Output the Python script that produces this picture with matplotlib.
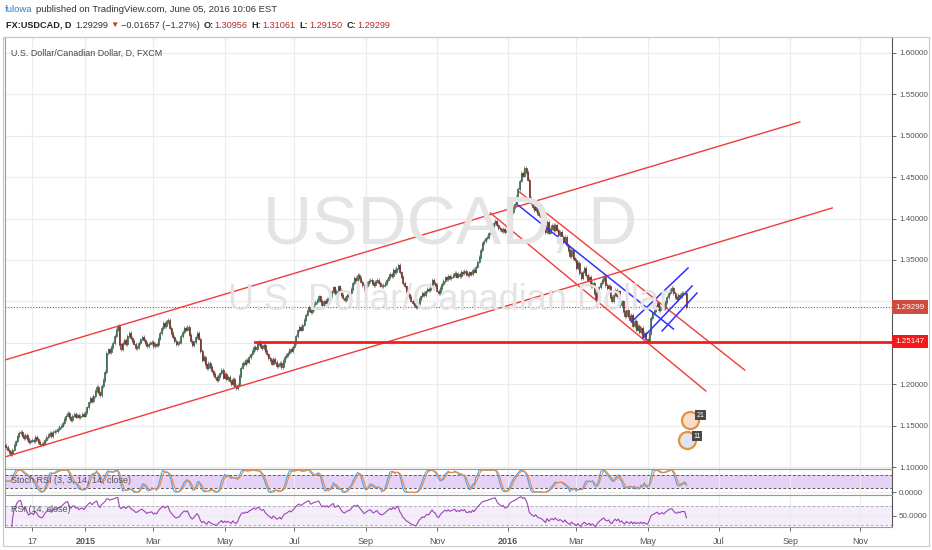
import matplotlib
matplotlib.use("Agg")
import matplotlib.pyplot as plt
import matplotlib.transforms as mtransforms
from matplotlib.patches import Rectangle
import numpy as np
import pandas as pd

# daily closes, one per weekday starting 2014-10-24
closes_2014 = [
    1.124, 1.121, 1.118, 1.116, 1.121, 1.127,  # Oct
    1.131, 1.137, 1.141, 1.142, 1.138, 1.135, 1.139, 1.134, 1.130, 1.132,
    1.133, 1.131, 1.136, 1.134, 1.130, 1.128, 1.127, 1.129, 1.133, 1.136,  # Nov
    1.139, 1.141, 1.137, 1.142, 1.144, 1.143, 1.146, 1.148, 1.150, 1.153,
    1.158, 1.162, 1.165, 1.160, 1.157, 1.162, 1.164, 1.161, 1.163, 1.160,
    1.162, 1.164, 1.162,  # Dec
]
closes_2015 = [
    1.166, 1.172, 1.178, 1.183, 1.180, 1.186, 1.192, 1.197, 1.190, 1.187,
    1.198, 1.205, 1.215, 1.238, 1.242, 1.239, 1.245, 1.250, 1.258, 1.266,
    1.270, 1.248,  # Jan
    1.242, 1.250, 1.253, 1.248, 1.258, 1.262, 1.256, 1.252, 1.249, 1.244,
    1.245, 1.250, 1.254, 1.257, 1.253, 1.250, 1.246, 1.249, 1.250, 1.251,  # Feb
    1.246, 1.249, 1.247, 1.255, 1.262, 1.268, 1.274, 1.270, 1.275, 1.278,
    1.268, 1.262, 1.257, 1.252, 1.248, 1.250, 1.251, 1.258, 1.263, 1.268,
    1.266, 1.269,  # Mar
    1.260, 1.252, 1.247, 1.251, 1.257, 1.262, 1.255, 1.240, 1.229, 1.233,
    1.224, 1.219, 1.226, 1.221, 1.216, 1.212, 1.209, 1.205, 1.210, 1.213,
    1.217, 1.208,  # Apr
    1.212, 1.206, 1.209, 1.204, 1.200, 1.206, 1.198, 1.195, 1.199, 1.210,
    1.220, 1.226, 1.224, 1.229, 1.227, 1.233, 1.236, 1.240, 1.245, 1.242,
    1.248,  # May
    1.251, 1.246, 1.244, 1.247, 1.240, 1.236, 1.232, 1.229, 1.225, 1.231,
    1.227, 1.222, 1.223, 1.226, 1.221, 1.228, 1.233, 1.235, 1.238, 1.242,
    1.240, 1.245,  # Jun
    1.250, 1.258, 1.265, 1.269, 1.266, 1.272, 1.278, 1.284, 1.289, 1.293,
    1.287, 1.291, 1.297, 1.299, 1.302, 1.306, 1.301, 1.296, 1.300, 1.298,
    1.303, 1.300, 1.306,  # Jul
    1.312, 1.317, 1.310, 1.313, 1.318, 1.314, 1.308, 1.304, 1.302, 1.306,
    1.309, 1.310, 1.315, 1.322, 1.328, 1.326, 1.332, 1.328, 1.324, 1.320,
    1.315,  # Aug
    1.318, 1.322, 1.325, 1.326, 1.322, 1.320, 1.324, 1.326, 1.322, 1.319,
    1.318, 1.320, 1.322, 1.326, 1.329, 1.333, 1.331, 1.338, 1.335, 1.340,
    1.344, 1.335,  # Sep
    1.330, 1.322, 1.318, 1.312, 1.309, 1.305, 1.301, 1.298, 1.296, 1.293,
    1.297, 1.303, 1.306, 1.310, 1.308, 1.312, 1.315, 1.314, 1.320, 1.326,
    1.322, 1.320,  # Oct
    1.313, 1.310, 1.316, 1.321, 1.325, 1.329, 1.327, 1.331, 1.328, 1.330,
    1.332, 1.334, 1.330, 1.333, 1.331, 1.336, 1.334, 1.337, 1.333, 1.332,
    1.335,  # Nov
    1.333, 1.338, 1.336, 1.342, 1.348, 1.354, 1.362, 1.370, 1.373, 1.376,
    1.378, 1.382, 1.386, 1.390, 1.395, 1.397, 1.392, 1.389, 1.387, 1.385,
    1.388, 1.384, 1.386,  # Dec
]
closes_2016 = [
    1.390, 1.402, 1.408, 1.414, 1.418, 1.426, 1.436, 1.446, 1.455, 1.452,
    1.461, 1.456, 1.447, 1.425, 1.419, 1.414, 1.410, 1.416, 1.407, 1.404,
    1.402,  # Jan
    1.398, 1.392, 1.384, 1.396, 1.383, 1.388, 1.392, 1.386, 1.392, 1.386,
    1.380, 1.384, 1.378, 1.372, 1.378, 1.368, 1.362, 1.355, 1.362, 1.352,
    1.350,  # Feb
    1.340, 1.346, 1.334, 1.328, 1.336, 1.340, 1.332, 1.326, 1.330, 1.318,
    1.322, 1.310, 1.302, 1.312, 1.317, 1.322, 1.326, 1.330, 1.320, 1.316,
    1.319, 1.305, 1.300,  # Mar
    1.308, 1.314, 1.306, 1.312, 1.296, 1.300, 1.288, 1.282, 1.290, 1.282,
    1.278, 1.284, 1.270, 1.276, 1.266, 1.270, 1.263, 1.268, 1.258, 1.262,
    1.254,  # Apr
    1.252, 1.262, 1.280, 1.286, 1.289, 1.294, 1.298, 1.290, 1.293, 1.297,
    1.292, 1.299, 1.305, 1.310, 1.314, 1.316, 1.310, 1.305, 1.303, 1.308,
    1.306, 1.310,  # May
    1.310, 1.30956, 1.29299,  # Jun
]
first_open = 1.1265
start_date = "2014-10-24"
axis_end = "2016-11-30"

last_price = 1.29299
support_level = 1.25147
hidden_ticks = (1.25, 1.30)  # covered by the price boxes

tick_dates = ["2014-11-17", "2015-01-01", "2015-03-02", "2015-05-01", "2015-07-01",
              "2015-09-01", "2015-11-02", "2016-01-01", "2016-03-01", "2016-05-02",
              "2016-07-01", "2016-09-01", "2016-11-01"]
tick_labels = ["17", "2015", "Mar", "May", "Jul", "Sep", "Nov",
               "2016", "Mar", "May", "Jul", "Sep", "Nov"]

# drawn trend lines: (bar, price) -> (bar, price)
red_lines = [
    (0, 1.2296, 490, 1.5167),
    (0, 1.1125, 510, 1.4128),
    (317, 1.4321, 456, 1.2171),
    (299, 1.4068, 432, 1.1918),
]
blue_lines = [
    (316, 1.4164, 412, 1.2667),
    (386, 1.2751, 421, 1.3403),
    (393, 1.2558, 423.5, 1.3186),
    (405, 1.2643, 426.5, 1.3101),
]
support_start = 154

closes = np.array(closes_2014 + closes_2015 + closes_2016)
opens = np.concatenate([[first_open], closes[:-1]])
bars = np.arange(len(closes))
axis_dates = pd.bdate_range(start_date, axis_end)
tick_pos = axis_dates.searchsorted(pd.to_datetime(tick_dates))

# indicators
s = pd.Series(closes)
delta = s.diff().fillna(0)
avg_up = delta.clip(lower=0).ewm(alpha=1 / 14, adjust=False).mean()
avg_dn = (-delta.clip(upper=0)).ewm(alpha=1 / 14, adjust=False).mean()
rsi = 100 - 100 / (1 + avg_up / avg_dn.replace(0, np.nan))
rsi = rsi.bfill()
lo = rsi.rolling(14, min_periods=1).min()
hi = rsi.rolling(14, min_periods=1).max()
stoch = (100 * (rsi - lo) / (hi - lo).replace(0, np.nan)).fillna(50)
k = stoch.rolling(3, min_periods=1).mean()
d = k.rolling(3, min_periods=1).mean()

plt.rcParams['font.family'] = ['Liberation Sans', 'DejaVu Sans']

W, H = 932, 550
fig = plt.figure(figsize=(W / 100, H / 100), dpi=100)


def fx(px):
    return px / W


def fy(py):
    return 1 - py / H


left, right = 5, 892
ax = fig.add_axes([fx(left), fy(469), fx(right) - fx(left), fy(37) - fy(469)])
ax2 = fig.add_axes([fx(left), fy(495), fx(right) - fx(left), fy(469) - fy(495)], sharex=ax)
ax3 = fig.add_axes([fx(left), fy(527), fx(right) - fx(left), fy(495) - fy(527)], sharex=ax)

grid_c = '#ececec'
for a in (ax, ax2, ax3):
    a.set_facecolor('white')
    for sp in a.spines.values():
        sp.set_color('#9a9a9a')
        sp.set_linewidth(0.8)
    a.spines['right'].set_color('#555555')
    a.yaxis.tick_right()
    a.tick_params(axis='y', colors='#555555', labelsize=5.8, length=3, width=0.6, pad=2)
    a.tick_params(axis='x', length=0)
    a.set_xticks(tick_pos)
    a.grid(True, color=grid_c, lw=0.8)
    a.set_axisbelow(True)

ax.set_xlim(-0.6, 546.9)
ax.set_ylim(1.0976, 1.6193)
price_ticks = np.round(np.arange(1.10, 1.6001, 0.05), 2)
ax.set_yticks(price_ticks)
ax.set_yticklabels(["" if t in hidden_ticks else "%.5f" % t for t in price_ticks])
plt.setp(ax.get_xticklabels(), visible=False)
plt.setp(ax2.get_xticklabels(), visible=False)

# watermark
fig.text(fx(450), fy(226), "USDCAD, D", fontsize=49, color='#e4e4e4',
         ha='center', va='center', zorder=0)
fig.text(fx(450), fy(300), "U.S. Dollar/Canadian Dollar", fontsize=26, color='#e4e4e4',
         ha='center', va='center', zorder=0)
ax.patch.set_alpha(0)

# candles
up = closes >= opens
body_lo = np.minimum(opens, closes)
body_h = np.abs(closes - opens)
wick = 0.0022
ax.vlines(bars, body_lo - wick, body_lo + body_h + wick, color='#737375', lw=0.5, zorder=3)
ax.bar(bars[up], body_h[up], bottom=body_lo[up], width=0.62, color='#6ba583',
       edgecolor='#225437', lw=0.45, zorder=4)
ax.bar(bars[~up], body_h[~up], bottom=body_lo[~up], width=0.62, color='#d75442',
       edgecolor='#5b1a13', lw=0.45, zorder=4)

# drawings
for b0, p0, b1, p1 in red_lines:
    ax.plot([b0, b1], [p0, p1], color='#f23a3a', lw=1.0, zorder=5)
for b0, p0, b1, p1 in blue_lines:
    ax.plot([b0, b1], [p0, p1], color='#3030ff', lw=1.1, zorder=6)
ax.plot([support_start, 546.9], [support_level, support_level], color='#f51c1c', lw=2, zorder=5)
ax.axhline(last_price, color='#c0392b', lw=0.8, ls=(0, (1, 1.5)), zorder=2)

# price scale labels
tr = mtransforms.blended_transform_factory(ax.transAxes, ax.transData)
ax.text(1.004, last_price, "%.5f" % last_price, transform=tr, color='white', fontsize=5.8,
        va='center', ha='left', zorder=10,
        bbox=dict(boxstyle='square,pad=0.4', fc='#cf4b3f', ec='none'))
ax.text(1.004, support_level, "%.5f" % support_level, transform=tr, color='white',
        fontsize=5.8, va='center', ha='left', zorder=10,
        bbox=dict(boxstyle='square,pad=0.4', fc='#f51818', ec='none'))

# economic event badges
ax.scatter([422], [1.1568], s=150, facecolor='#f8dccd', edgecolor='#e8913a', lw=1.6, zorder=6)
ax.scatter([420.5], [1.1326], s=150, facecolor='#dfe3f3', edgecolor='#e8913a', lw=1.6, zorder=6)
ax.text(428.5, 1.1628, "21", fontsize=5, color='white', ha='center', va='center', zorder=7,
        bbox=dict(boxstyle='square,pad=0.2', fc='#4a4a4a', ec='none'))
ax.text(426.5, 1.1370, "11", fontsize=5, color='white', ha='center', va='center', zorder=7,
        bbox=dict(boxstyle='square,pad=0.2', fc='#4a4a4a', ec='none'))

ax.text(0.007, 0.963, "U.S. Dollar/Canadian Dollar, D, FXCM", transform=ax.transAxes,
        fontsize=6.4, color='#444444', va='center', ha='left')

# Stoch RSI panel
ax2.set_ylim(-12, 105)
ax2.axhspan(20, 80, color='#e6d1f7', lw=0, zorder=0)
for lvl in (20, 80):
    ax2.axhline(lvl, color='#5a5a5a', lw=0.7, ls=(0, (3, 2)), zorder=1)
ax2.plot(bars, k, color='#4aa3e8', lw=0.8, zorder=3)
ax2.plot(bars, d, color='#f08a3c', lw=0.8, zorder=3)
ax2.set_yticks([0])
ax2.set_yticklabels(["0.0000"])
ax2.text(0.007, 0.55, "Stoch RSI (3, 3, 14, 14, close)", transform=ax2.transAxes,
         fontsize=6.5, color='#555555', va='center', ha='left', zorder=4)

# RSI panel
ax3.set_ylim(26, 93)
ax3.axhspan(30, 70, color='#f5edfc', lw=0, zorder=0)
for lvl in (30, 70):
    ax3.axhline(lvl, color='#b0b0b0', lw=0.7, ls=(0, (3, 2)), zorder=1)
ax3.plot(bars, rsi, color='#9b45b5', lw=0.8, zorder=3)
ax3.set_yticks([50])
ax3.set_yticklabels(["50.0000"])
ax3.text(0.007, 0.55, "RSI (14, close)", transform=ax3.transAxes,
         fontsize=6.5, color='#555555', va='center', ha='left', zorder=4)

ax3.set_xticklabels(tick_labels)
ax3.tick_params(axis='x', colors='#555555', labelsize=6.5, length=3, width=0.6, pad=4)
for lbl in ax3.get_xticklabels():
    if lbl.get_text() in ("2015", "2016"):
        lbl.set_fontweight('bold')

# outer frame
fig.patches.append(Rectangle((fx(3), fy(546)), fx(929) - fx(3), fy(37) - fy(546),
                             transform=fig.transFigure, fill=False, ec='#c8c8c8', lw=0.8))

# header, laid out piece by piece
renderer = fig.canvas.get_renderer()


def put(x_px, y_px, txt, gap=3, **kw):
    t = fig.text(fx(x_px), fy(y_px), txt, va='center', ha='left', **kw)
    bb = t.get_window_extent(renderer)
    return bb.x1 + gap


x = put(5, 9, "fulowa", fontsize=6.8, color='#2f7fc1')
put(x, 9, "published on TradingView.com, June 05, 2016 10:06 EST", fontsize=6.8, color='#333333')

hdr = dict(fontsize=6.6)
x = put(6, 25, "FX:USDCAD, D", gap=4, fontweight='bold', color='#222222', **hdr)
x = put(x, 25, "1.29299", gap=2, color='#333333', **hdr)
x = put(x, 25, "\u25bc", gap=2, color='#c0392b', fontsize=6)
x = put(x, 25, "\u22120.01657 (\u22121.27%)", gap=4, color='#333333', **hdr)
for lbl, val in [("O:", "1.30956"), ("H:", "1.31061"), ("L:", "1.29150"), ("C:", "1.29299")]:
    x = put(x, 25, lbl, gap=1, fontweight='bold', color='#222222', **hdr)
    x = put(x, 25, val, gap=4, color='#b22a2a', **hdr)

fig.savefig("out.png", dpi=100)
